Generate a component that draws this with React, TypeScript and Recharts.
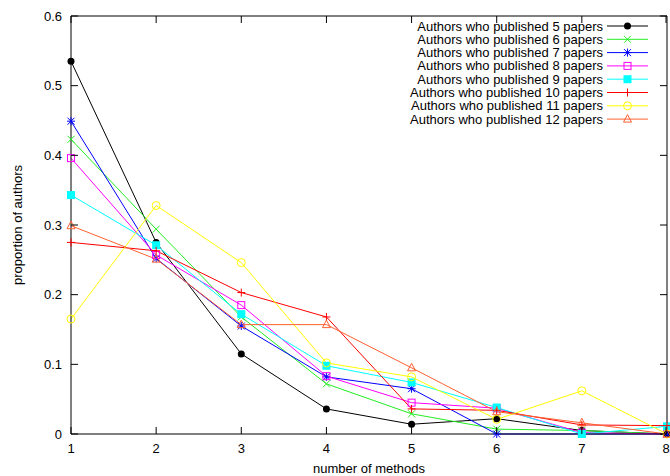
import { LineChart, Line, XAxis, YAxis, ReferenceLine } from 'recharts';

const methods = [1, 2, 3, 4, 5, 6, 7, 8];
const yTicks = [0, 0.1, 0.2, 0.3, 0.4, 0.5, 0.6];

const papers5 = [0.535, 0.275, 0.115, 0.036, 0.014, 0.022, 0.005, 0];
const papers6 = [0.423, 0.294, 0.168, 0.072, 0.029, 0.007, 0.005, 0];
const papers7 = [0.449, 0.252, 0.155, 0.082, 0.065, 0, 0, 0];
const papers8 = [0.396, 0.257, 0.185, 0.083, 0.045, 0.037, 0.002, 0];
const papers9 = [0.343, 0.271, 0.172, 0.098, 0.074, 0.038, 0, 0.011];
const papers10 = [0.275, 0.263, 0.203, 0.168, 0.036, 0.034, 0.013, 0.012];
const papers11 = [0.165, 0.328, 0.246, 0.102, 0.082, 0.021, 0.062, 0];
const papers12 = [0.299, 0.251, 0.157, 0.157, 0.095, 0.032, 0.016, 0];

const series = [
  { key: 'p5', label: 'Authors who published 5 papers', values: papers5, color: '#000000', marker: 'dot' },
  { key: 'p6', label: 'Authors who published 6 papers', values: papers6, color: '#22ee22', marker: 'x' },
  { key: 'p7', label: 'Authors who published 7 papers', values: papers7, color: '#0000ff', marker: 'star' },
  { key: 'p8', label: 'Authors who published 8 papers', values: papers8, color: '#ff00ff', marker: 'square' },
  { key: 'p9', label: 'Authors who published 9 papers', values: papers9, color: '#00ffff', marker: 'fsquare' },
  { key: 'p10', label: 'Authors who published 10 papers', values: papers10, color: '#ff0000', marker: 'plus' },
  { key: 'p11', label: 'Authors who published 11 papers', values: papers11, color: '#ffff00', marker: 'circle' },
  { key: 'p12', label: 'Authors who published 12 papers', values: papers12, color: '#ff6030', marker: 'triangle' },
];

const data = methods.map((m, i) => {
  const row: any = { m };
  series.forEach((s) => (row[s.key] = s.values[i]));
  return row;
});

const FONT = '"Liberation Sans", Arial, sans-serif';
const FS = 13;
const PLOT_TOP = 16;
const PLOT_RIGHT = 667;
const TICK = 7;

const Marker = ({ kind, cx, cy, color }: any) => {
  const r = 3.5;
  switch (kind) {
    case 'dot':
      return <circle cx={cx} cy={cy} r={3.5} fill={color} />;
    case 'x':
      return (
        <path d={`M${cx - r},${cy - r}L${cx + r},${cy + r}M${cx - r},${cy + r}L${cx + r},${cy - r}`} stroke={color} strokeWidth={1} />
      );
    case 'plus':
      return <path d={`M${cx - 4},${cy}L${cx + 4},${cy}M${cx},${cy - 4}L${cx},${cy + 4}`} stroke={color} strokeWidth={1} />;
    case 'star':
      return (
        <path
          d={`M${cx - r},${cy - r}L${cx + r},${cy + r}M${cx - r},${cy + r}L${cx + r},${cy - r}M${cx - 4},${cy}L${cx + 4},${cy}M${cx},${cy - 4}L${cx},${cy + 4}`}
          stroke={color}
          strokeWidth={1}
        />
      );
    case 'square':
      return <rect x={cx - 3.5} y={cy - 3.5} width={7} height={7} fill="none" stroke={color} strokeWidth={1} />;
    case 'fsquare':
      return <rect x={cx - 4} y={cy - 4} width={8} height={8} fill={color} />;
    case 'circle':
      return <circle cx={cx} cy={cy} r={4} fill="none" stroke={color} strokeWidth={1} />;
    case 'triangle':
      return (
        <path d={`M${cx},${cy - 4.5}L${cx + 4},${cy + 3}L${cx - 4},${cy + 3}Z`} fill="none" stroke={color} strokeWidth={1} />
      );
    default:
      return null;
  }
};

const BottomTick = ({ x, y, payload }: any) => (
  <g>
    <line x1={x} y1={y} x2={x} y2={y - TICK} stroke="#000" />
    <line x1={x} y1={PLOT_TOP} x2={x} y2={PLOT_TOP + TICK} stroke="#000" />
    <text x={x} y={y + 19} textAnchor="middle" fontSize={FS} fontFamily={FONT} fill="#000">
      {payload.value}
    </text>
  </g>
);

const LeftTick = ({ x, y, payload }: any) => (
  <g>
    <line x1={x} y1={y} x2={x + TICK} y2={y} stroke="#000" />
    <line x1={PLOT_RIGHT} y1={y} x2={PLOT_RIGHT - TICK} y2={y} stroke="#000" />
    <text x={x - 9} y={y + 4.5} textAnchor="end" fontSize={FS} fontFamily={FONT} fill="#000">
      {payload.value}
    </text>
  </g>
);

const LegendBox = () => (
  <svg width={300} height={112} style={{ position: 'absolute', left: 370, top: 18 }}>
    {series.map((s, i) => {
      const y = 8 + i * 13.3;
      return (
        <g key={s.key}>
          <text x={233} y={y + 4.5} textAnchor="end" fontSize={FS} fontFamily={FONT} fill="#000">
            {s.label}
          </text>
          <line x1={237} y1={y} x2={278} y2={y} stroke={s.color} strokeWidth={1} />
          <Marker kind={s.marker} cx={257.5} cy={y} color={s.color} />
        </g>
      );
    })}
  </svg>
);

export default function App() {
  return (
    <div style={{ position: 'absolute', left: 0, top: 0, width: 670, height: 476, background: '#fff' }}>
      <LineChart width={670} height={476} data={data} margin={{ top: PLOT_TOP, right: 3, left: 0, bottom: 0 }}>
        <XAxis
          dataKey="m"
          type="number"
          domain={[1, 8]}
          ticks={methods}
          height={42}
          tickSize={0}
          tickMargin={0}
          tickLine={false}
          tick={<BottomTick />}
          stroke="#000"
          label={{ value: 'number of methods', position: 'insideBottom', offset: 3, fontSize: FS, fontFamily: FONT, fill: '#000' }}
        />
        <YAxis
          type="number"
          domain={[0, 0.6]}
          ticks={yTicks}
          width={71}
          tickSize={0}
          tickMargin={0}
          tickLine={false}
          tick={<LeftTick />}
          stroke="#000"
          label={{
            content: () => (
              <text x={22} y={225} transform="rotate(-90 22 225)" textAnchor="middle" fontSize={FS} fontFamily={FONT} fill="#000">
                proportion of authors
              </text>
            ),
          }}
        />
        <ReferenceLine y={0.6} stroke="#000" />
        <ReferenceLine x={8} stroke="#000" />
        {series.map((s) => (
          <Line
            key={s.key}
            dataKey={s.key}
            name={s.label}
            stroke={s.color}
            strokeWidth={1}
            type="linear"
            isAnimationActive={false}
            dot={(p: any) => <Marker key={`${s.key}-${p.index}`} kind={s.marker} cx={p.cx} cy={p.cy} color={s.color} />}
            activeDot={false}
          />
        ))}
      </LineChart>
      <LegendBox />
    </div>
  );
}
